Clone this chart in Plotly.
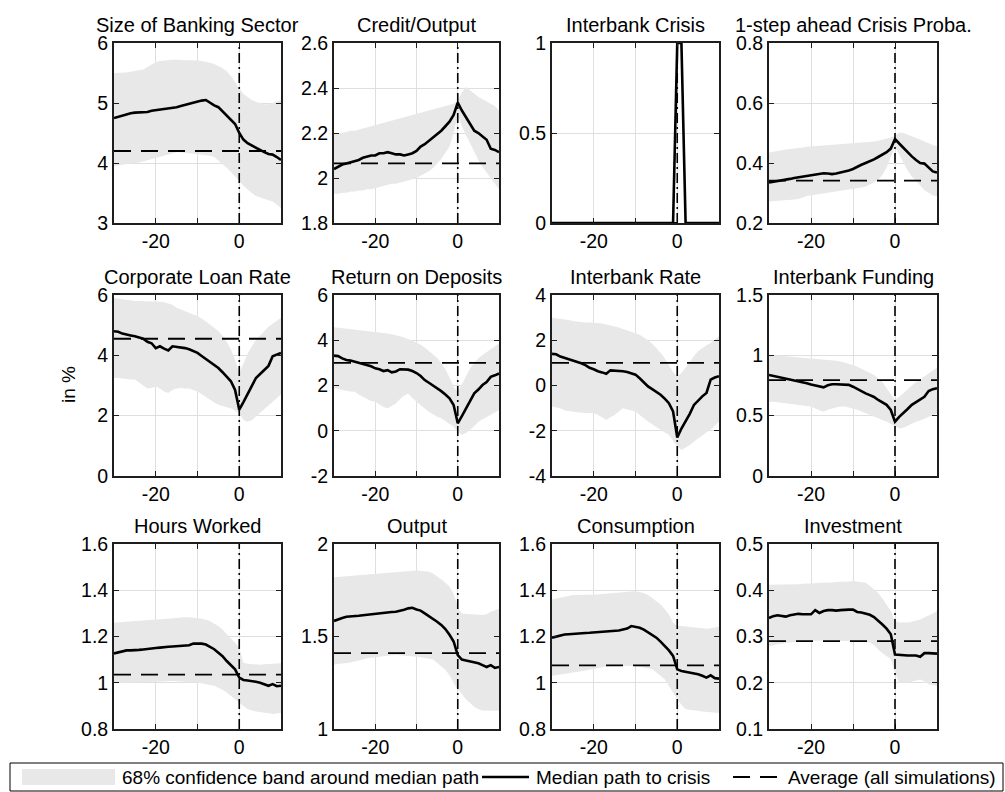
import plotly.graph_objects as go

W, H = 1005, 792
periods = list(range(-30, 11))
xtick_vals = [-30, -20, -10, 0, 10]
xtick_text = ["", "-20", "", "0", ""]

titles = ["Size of Banking Sector", "Credit/Output", "Interbank Crisis", "1-step ahead Crisis Proba.",
          "Corporate Loan Rate", "Return on Deposits", "Interbank Rate", "Interbank Funding",
          "Hours Worked", "Output", "Consumption", "Investment"]

y_ranges = [[3, 6], [1.8, 2.6], [0, 1], [0.2, 0.8],
            [0, 6], [-2, 6], [-4, 4], [0, 1.5],
            [0.8, 1.6], [1, 2], [0.8, 1.6], [0.1, 0.5]]
y_ticks = [[3, 4, 5, 6], [1.8, 2, 2.2, 2.4, 2.6], [0, 0.5, 1], [0.2, 0.4, 0.6, 0.8],
           [0, 2, 4, 6], [-2, 0, 2, 4, 6], [-4, -2, 0, 2, 4], [0, 0.5, 1, 1.5],
           [0.8, 1, 1.2, 1.4, 1.6], [1, 1.5, 2], [0.8, 1, 1.2, 1.4, 1.6], [0.1, 0.2, 0.3, 0.4, 0.5]]
y_ticktext = [["3", "4", "5", "6"], ["1.8", "2", "2.2", "2.4", "2.6"], ["0", "0.5", "1"], ["0.2", "0.4", "0.6", "0.8"],
              ["0", "2", "4", "6"], ["-2", "0", "2", "4", "6"], ["-4", "-2", "0", "2", "4"], ["0", "0.5", "1", "1.5"],
              ["0.8", "1", "1.2", "1.4", "1.6"], ["1", "1.5", "2"], ["0.8", "1", "1.2", "1.4", "1.6"], ["0.1", "0.2", "0.3", "0.4", "0.5"]]

# averages (all simulations)
averages = [4.2, 2.065, 0.0, 0.341, 4.55, 3.0, 1.0, 0.795, 1.035, 1.41, 1.075, 0.29]

# ---- Size of Banking Sector
size_med = [4.75, 4.77, 4.80, 4.82, 4.83, 4.84, 4.84, 4.85, 4.85, 4.87,
            4.88, 4.88, 4.89, 4.91, 4.92, 4.93, 4.95, 4.97, 4.98, 5.00,
            5.02, 5.04, 5.05, 5.00, 4.96, 4.93, 4.86, 4.79, 4.73, 4.65,
            4.50, 4.39, 4.33, 4.29, 4.25, 4.22, 4.18, 4.15, 4.14, 4.10, 4.05]
size_up = [5.50, 5.50, 5.51, 5.51, 5.52, 5.53, 5.54, 5.56, 5.60, 5.64,
           5.68, 5.70, 5.71, 5.71, 5.72, 5.72, 5.72, 5.72, 5.72, 5.72,
           5.71, 5.70, 5.69, 5.67, 5.65, 5.62, 5.58, 5.53, 5.45, 5.35,
           5.25, 5.15, 5.10, 5.05, 5.02, 5.00, 4.98, 4.98, 5.00, 5.02, 5.05]
size_lo = [3.95, 3.96, 3.97, 3.98, 3.99, 4.00, 4.01, 4.02, 4.04, 4.06,
           4.08, 4.10, 4.12, 4.14, 4.16, 4.18, 4.18, 4.17, 4.16, 4.15,
           4.15, 4.14, 4.13, 4.12, 4.10, 4.05, 3.98, 3.92, 3.85, 3.78,
           3.70, 3.62, 3.56, 3.50, 3.45, 3.42, 3.40, 3.38, 3.36, 3.30, 3.25]

# ---- Credit/Output
credit_med = [2.04, 2.05, 2.06, 2.065, 2.07, 2.075, 2.08, 2.09, 2.095, 2.10,
              2.10, 2.11, 2.11, 2.115, 2.11, 2.105, 2.105, 2.10, 2.105, 2.11,
              2.12, 2.14, 2.15, 2.165, 2.18, 2.195, 2.21, 2.23, 2.25, 2.28,
              2.335, 2.30, 2.27, 2.24, 2.21, 2.20, 2.185, 2.17, 2.13, 2.125, 2.115]
credit_up = [2.20, 2.20, 2.20, 2.205, 2.21, 2.21, 2.215, 2.22, 2.225, 2.23,
             2.235, 2.24, 2.245, 2.25, 2.255, 2.26, 2.265, 2.27, 2.275, 2.28,
             2.285, 2.29, 2.295, 2.30, 2.305, 2.31, 2.315, 2.32, 2.325, 2.33,
             2.345, 2.38, 2.405, 2.39, 2.375, 2.36, 2.35, 2.34, 2.33, 2.32, 2.30]
credit_lo = [1.93, 1.93, 1.935, 1.935, 1.94, 1.94, 1.945, 1.945, 1.95, 1.95,
             1.955, 1.96, 1.965, 1.97, 1.975, 1.975, 1.98, 1.985, 1.99, 1.995,
             2.00, 2.01, 2.02, 2.03, 2.045, 2.065, 2.085, 2.11, 2.14, 2.20,
             2.28, 2.23, 2.19, 2.155, 2.12, 2.08, 2.05, 2.02, 2.00, 1.975, 1.95]

# ---- Interbank Crisis
crisis_med = [0, 0, 0, 0, 0, 0, 0, 0, 0, 0,
              0, 0, 0, 0, 0, 0, 0, 0, 0, 0,
              0, 0, 0, 0, 0, 0, 0, 0, 0, 0,
              1, 1, 0, 0, 0, 0, 0, 0, 0, 0, 0]
crisis_up = crisis_med
crisis_lo = crisis_med

# ---- 1-step ahead Crisis Proba.
proba_med = [0.335, 0.337, 0.34, 0.342, 0.345, 0.347, 0.35, 0.352, 0.355, 0.358,
             0.36, 0.362, 0.364, 0.366, 0.365, 0.363, 0.365, 0.368, 0.372, 0.375,
             0.38, 0.388, 0.394, 0.40, 0.405, 0.412, 0.42, 0.428, 0.436, 0.448,
             0.48, 0.465, 0.45, 0.435, 0.422, 0.41, 0.40, 0.398, 0.385, 0.372, 0.368]
proba_up = [0.435, 0.438, 0.44, 0.442, 0.445, 0.447, 0.448, 0.45, 0.452, 0.454,
            0.455, 0.456, 0.457, 0.458, 0.46, 0.46, 0.461, 0.462, 0.463, 0.464,
            0.465, 0.466, 0.467, 0.468, 0.47, 0.472, 0.474, 0.477, 0.48, 0.485,
            0.49, 0.502, 0.50, 0.495, 0.49, 0.485, 0.478, 0.472, 0.465, 0.46, 0.456]
proba_lo = [0.272, 0.273, 0.274, 0.275, 0.276, 0.277, 0.278, 0.28, 0.285, 0.29,
            0.293, 0.296, 0.298, 0.30, 0.302, 0.304, 0.306, 0.308, 0.31, 0.312,
            0.314, 0.316, 0.318, 0.322, 0.328, 0.335, 0.345, 0.36, 0.385, 0.42,
            0.455, 0.425, 0.40, 0.375, 0.355, 0.34, 0.325, 0.31, 0.30, 0.292, 0.289]

# ---- Corporate Loan Rate
loan_med = [4.80, 4.78, 4.72, 4.68, 4.66, 4.63, 4.58, 4.55, 4.45, 4.40,
            4.24, 4.30, 4.22, 4.16, 4.30, 4.28, 4.28, 4.24, 4.20, 4.15,
            4.08, 3.98, 3.88, 3.78, 3.68, 3.58, 3.44, 3.30, 3.14, 2.85,
            2.20, 2.45, 2.72, 3.00, 3.25, 3.38, 3.50, 3.65, 3.97, 4.03, 4.08]
loan_up = [5.90, 5.88, 5.85, 5.83, 5.82, 5.80, 5.80, 5.80, 5.80, 5.80,
           5.80, 5.78, 5.76, 5.73, 5.68, 5.58, 5.52, 5.45, 5.40, 5.35,
           5.30, 5.22, 5.12, 5.02, 4.92, 4.80, 4.65, 4.45, 4.20, 3.85,
           3.40, 3.75, 4.05, 4.30, 4.50, 4.65, 4.80, 4.95, 5.05, 5.15, 5.25]
loan_lo = [3.25, 3.25, 3.24, 3.22, 3.20, 3.20, 3.10, 3.00, 2.90, 2.92,
           2.97, 2.90, 2.80, 2.75, 2.85, 2.90, 2.92, 2.90, 2.90, 2.85,
           2.80, 2.72, 2.62, 2.52, 2.44, 2.36, 2.32, 2.28, 2.25, 2.18,
           2.08, 1.86, 1.80, 1.85, 1.97, 2.10, 2.25, 2.35, 2.47, 2.58, 2.70]

# ---- Return on Deposits
dep_med = [3.32, 3.30, 3.20, 3.13, 3.10, 3.05, 3.02, 2.98, 2.92, 2.85,
           2.76, 2.72, 2.64, 2.68, 2.58, 2.62, 2.72, 2.70, 2.70, 2.64,
           2.55, 2.42, 2.24, 2.12, 2.00, 1.88, 1.75, 1.60, 1.43, 1.14,
           0.33, 0.65, 1.00, 1.35, 1.65, 1.82, 2.02, 2.15, 2.38, 2.45, 2.53]
dep_up = [4.57, 4.55, 4.52, 4.50, 4.48, 4.45, 4.44, 4.42, 4.40, 4.39,
          4.38, 4.36, 4.34, 4.30, 4.26, 4.23, 4.18, 4.12, 4.05, 3.98,
          3.90, 3.80, 3.68, 3.52, 3.38, 3.22, 3.00, 2.72, 2.35, 1.95,
          1.70, 2.05, 2.46, 2.75, 3.00, 3.20, 3.35, 3.48, 3.57, 3.72, 3.86]
dep_lo = [1.90, 1.85, 1.80, 1.76, 1.74, 1.72, 1.60, 1.50, 1.40, 1.32,
          1.28, 1.15, 1.05, 0.99, 1.10, 1.20, 1.40, 1.55, 1.65, 1.45,
          1.28, 1.12, 0.98, 0.84, 0.72, 0.62, 0.55, 0.42, 0.30, 0.18,
          -0.04, -0.19, -0.10, 0.03, 0.20, 0.40, 0.50, 0.60, 0.70, 0.82, 0.92]

# ---- Interbank Rate
ib_med = [1.40, 1.38, 1.28, 1.22, 1.18, 1.12, 1.04, 0.98, 0.90, 0.78,
          0.72, 0.63, 0.58, 0.52, 0.67, 0.66, 0.67, 0.63, 0.60, 0.55,
          0.48, 0.32, 0.15, -0.04, -0.16, -0.28, -0.41, -0.58, -0.78, -1.15,
          -2.30, -1.90, -1.59, -1.25, -0.86, -0.65, -0.48, -0.33, 0.26, 0.35, 0.41]
ib_up = [3.00, 2.98, 2.95, 2.92, 2.90, 2.85, 2.82, 2.80, 2.78, 2.78,
         2.77, 2.76, 2.74, 2.70, 2.66, 2.62, 2.56, 2.50, 2.44, 2.38,
         2.33, 2.24, 2.12, 2.00, 1.84, 1.66, 1.45, 1.20, 0.92, 0.60,
         0.40, 0.55, 0.78, 1.05, 1.30, 1.51, 1.65, 1.78, 1.88, 2.03, 2.18]
ib_lo = [-0.93, -0.95, -1.00, -1.10, -1.12, -1.15, -1.18, -1.20, -1.22, -1.22,
         -1.22, -1.30, -1.40, -1.52, -1.40, -1.30, -1.15, -1.00, -1.05, -1.10,
         -1.15, -1.28, -1.45, -1.59, -1.72, -1.85, -1.96, -2.08, -2.18, -2.45,
         -2.70, -2.85, -2.75, -2.63, -2.48, -2.33, -2.20, -2.08, -1.96, -1.78, -1.60]

# ---- Interbank Funding
fund_med = [0.837, 0.83, 0.818, 0.812, 0.805, 0.796, 0.79, 0.782, 0.775, 0.768,
            0.758, 0.749, 0.742, 0.735, 0.752, 0.76, 0.76, 0.758, 0.76, 0.755,
            0.74, 0.72, 0.70, 0.685, 0.67, 0.655, 0.63, 0.61, 0.59, 0.547,
            0.45, 0.49, 0.52, 0.555, 0.59, 0.61, 0.63, 0.657, 0.704, 0.72, 0.727]
fund_up = [1.0, 1.0, 0.998, 0.995, 0.993, 0.99, 0.988, 0.985, 0.98, 0.978,
           0.975, 0.972, 0.97, 0.967, 0.963, 0.96, 0.955, 0.948, 0.94, 0.93,
           0.92, 0.905, 0.89, 0.875, 0.855, 0.837, 0.81, 0.78, 0.727, 0.68,
           0.63, 0.655, 0.685, 0.72, 0.75, 0.78, 0.80, 0.825, 0.85, 0.875, 0.90]
fund_lo = [0.616, 0.615, 0.612, 0.608, 0.605, 0.602, 0.598, 0.592, 0.585, 0.58,
           0.575, 0.56, 0.545, 0.533, 0.55, 0.56, 0.57, 0.575, 0.575, 0.57,
           0.56, 0.55, 0.535, 0.52, 0.505, 0.49, 0.478, 0.465, 0.45, 0.43,
           0.41, 0.395, 0.40, 0.42, 0.435, 0.45, 0.46, 0.47, 0.49, 0.505, 0.52]

# ---- Hours Worked
hours_med = [1.127, 1.132, 1.136, 1.14, 1.14, 1.14, 1.142, 1.144, 1.145, 1.147,
             1.15, 1.152, 1.155, 1.156, 1.157, 1.159, 1.16, 1.16, 1.162, 1.17,
             1.17, 1.169, 1.165, 1.156, 1.145, 1.13, 1.115, 1.094, 1.078, 1.058,
             1.022, 1.012, 1.01, 1.008, 1.004, 1.0, 0.995, 0.987, 0.994, 0.985, 0.987]
hours_up = [1.26, 1.262, 1.264, 1.265, 1.266, 1.267, 1.268, 1.27, 1.271, 1.272,
            1.274, 1.275, 1.276, 1.278, 1.28, 1.281, 1.282, 1.283, 1.283, 1.282,
            1.28, 1.277, 1.272, 1.267, 1.255, 1.245, 1.23, 1.212, 1.195, 1.173,
            1.152, 1.087, 1.082, 1.08, 1.078, 1.078, 1.08, 1.08, 1.082, 1.083, 1.084]
hours_lo = [1.0, 1.0, 1.0, 1.0, 1.0, 1.0, 1.001, 1.002, 1.003, 1.003,
            1.004, 1.005, 1.006, 1.007, 1.008, 1.008, 1.006, 1.004, 1.002, 1.0,
            1.0, 0.998, 0.995, 0.99, 0.987, 0.98, 0.97, 0.958, 0.944, 0.929,
            0.915, 0.9, 0.886, 0.88, 0.876, 0.872, 0.87, 0.868, 0.865, 0.867, 0.869]

# ---- Output
output_med = [1.584, 1.59, 1.60, 1.607, 1.608, 1.61, 1.612, 1.615, 1.618, 1.62,
              1.622, 1.625, 1.628, 1.63, 1.632, 1.634, 1.638, 1.645, 1.652, 1.655,
              1.646, 1.64, 1.625, 1.61, 1.598, 1.58, 1.5625, 1.54, 1.509, 1.473,
              1.40, 1.375, 1.37, 1.365, 1.36, 1.355, 1.345, 1.335, 1.345, 1.33, 1.335]
output_up = [1.82, 1.822, 1.824, 1.826, 1.828, 1.83, 1.832, 1.834, 1.836, 1.838,
             1.84, 1.842, 1.844, 1.846, 1.848, 1.85, 1.852, 1.854, 1.856, 1.857,
             1.857, 1.856, 1.853, 1.85, 1.84, 1.825, 1.81, 1.79, 1.77, 1.73,
             1.66, 1.625, 1.622, 1.62, 1.618, 1.617, 1.616, 1.62, 1.634, 1.642, 1.65]
output_lo = [1.348, 1.35, 1.353, 1.357, 1.36, 1.366, 1.37, 1.376, 1.382, 1.386,
             1.39, 1.392, 1.394, 1.396, 1.398, 1.40, 1.40, 1.398, 1.395, 1.392,
             1.39, 1.388, 1.385, 1.38, 1.375, 1.36, 1.34, 1.32, 1.29, 1.25,
             1.214, 1.19, 1.16, 1.14, 1.12, 1.107, 1.10, 1.098, 1.098, 1.098, 1.098]

# ---- Consumption
cons_med = [1.195, 1.2, 1.205, 1.209, 1.21, 1.212, 1.213, 1.214, 1.215, 1.216,
            1.217, 1.218, 1.219, 1.22, 1.222, 1.224, 1.226, 1.23, 1.234, 1.245,
            1.242, 1.238, 1.23, 1.219, 1.208, 1.195, 1.178, 1.159, 1.14, 1.116,
            1.058, 1.051, 1.048, 1.044, 1.04, 1.037, 1.03, 1.022, 1.032, 1.02, 1.018]
cons_up = [1.36, 1.365, 1.37, 1.372, 1.375, 1.38, 1.38, 1.38, 1.38, 1.38,
           1.38, 1.382, 1.384, 1.386, 1.388, 1.389, 1.39, 1.392, 1.394, 1.395,
           1.396, 1.393, 1.388, 1.38, 1.365, 1.352, 1.339, 1.318, 1.295, 1.26,
           1.245, 1.245, 1.243, 1.24, 1.238, 1.236, 1.235, 1.234, 1.236, 1.24, 1.242]
cons_lo = [1.03, 1.032, 1.035, 1.038, 1.04, 1.044, 1.047, 1.05, 1.053, 1.055,
           1.058, 1.062, 1.066, 1.07, 1.074, 1.076, 1.075, 1.074, 1.073, 1.072,
           1.072, 1.07, 1.066, 1.062, 1.058, 1.045, 1.03, 1.015, 0.99, 0.958,
           0.929, 0.905, 0.886, 0.882, 0.88, 0.879, 0.876, 0.874, 0.872, 0.87, 0.869]

# ---- Investment
inv_med = [0.340, 0.344, 0.346, 0.345, 0.343, 0.346, 0.348, 0.349, 0.348, 0.348,
           0.348, 0.357, 0.351, 0.355, 0.357, 0.357, 0.356, 0.357, 0.358, 0.358,
           0.358, 0.353, 0.352, 0.35, 0.347, 0.342, 0.335, 0.326, 0.317, 0.305,
           0.261, 0.26, 0.26, 0.259, 0.259, 0.259, 0.256, 0.264, 0.264, 0.264, 0.263]
inv_up = [0.412, 0.412, 0.412, 0.412, 0.412, 0.412, 0.413, 0.413, 0.414, 0.414,
          0.415, 0.415, 0.416, 0.416, 0.417, 0.417, 0.418, 0.418, 0.419, 0.419,
          0.42, 0.419, 0.418, 0.416, 0.41, 0.403, 0.394, 0.382, 0.369, 0.355,
          0.333, 0.33, 0.33, 0.33, 0.332, 0.334, 0.337, 0.341, 0.345, 0.35, 0.355]
inv_lo = [0.279, 0.281, 0.283, 0.285, 0.286, 0.287, 0.288, 0.289, 0.29, 0.29,
          0.29, 0.291, 0.291, 0.292, 0.292, 0.292, 0.291, 0.291, 0.29, 0.29,
          0.29, 0.289, 0.288, 0.287, 0.287, 0.282, 0.272, 0.264, 0.258, 0.251,
          0.222, 0.2, 0.2, 0.2, 0.202, 0.205, 0.207, 0.203, 0.197, 0.195, 0.193]

medians = [size_med, credit_med, crisis_med, proba_med, loan_med, dep_med, ib_med, fund_med,
           hours_med, output_med, cons_med, inv_med]
uppers = [size_up, credit_up, crisis_up, proba_up, loan_up, dep_up, ib_up, fund_up,
          hours_up, output_up, cons_up, inv_up]
lowers = [size_lo, credit_lo, crisis_lo, proba_lo, loan_lo, dep_lo, ib_lo, fund_lo,
          hours_lo, output_lo, cons_lo, inv_lo]

legend_labels = ["68% confidence band around median path", "Median path to crisis", "Average (all simulations)"]

# ---------------- layout geometry (pixels)
cols_px = [(114, 281), (334, 499), (552, 719), (769, 937)]
rows_px = [(43, 223), (295, 476), (544, 729)]

FONT = "Liberation Sans, Arial, Helvetica, sans-serif"
BAND = "rgb(232,232,232)"
AVG_DASH = "17px,10px"

fig = go.Figure()
layout_axes = {}
annotations = []
shapes = []

for k in range(12):
    r, c = divmod(k, 4)
    sfx = "" if k == 0 else str(k + 1)
    xa, ya = "x" + sfx, "y" + sfx
    x0p, x1p = cols_px[c]
    y0p, y1p = rows_px[r]

    fig.add_trace(go.Scatter(x=periods + periods[::-1], y=uppers[k] + lowers[k][::-1],
                             fill="toself", fillcolor=BAND, line=dict(width=0, color=BAND),
                             mode="lines", xaxis=xa, yaxis=ya, showlegend=False, hoverinfo="skip"))
    fig.add_trace(go.Scatter(x=periods, y=[averages[k]] * len(periods), mode="lines",
                             line=dict(color="black", width=1.8, dash=AVG_DASH),
                             xaxis=xa, yaxis=ya, showlegend=False))
    fig.add_trace(go.Scatter(x=periods, y=medians[k], mode="lines",
                             line=dict(color="black", width=2.6),
                             xaxis=xa, yaxis=ya, showlegend=False))

    axis_common = dict(showline=True, linecolor="rgb(30,30,30)", linewidth=1.8, mirror="allticks",
                       ticks="inside", ticklen=5, tickcolor="rgb(30,30,30)", tickwidth=1,
                       showgrid=True, gridcolor="rgb(223,223,223)", gridwidth=1,
                       zeroline=False, automargin=False,
                       tickfont=dict(family=FONT, size=19.5, color="black"))
    layout_axes["xaxis" + sfx] = dict(axis_common, domain=[x0p / W, x1p / W], range=[-30, 10],
                                     tickmode="array", tickvals=xtick_vals, ticktext=xtick_text,
                                     anchor=ya)
    layout_axes["yaxis" + sfx] = dict(axis_common, domain=[1 - y1p / H, 1 - y0p / H], range=y_ranges[k],
                                     tickmode="array", tickvals=y_ticks[k], ticktext=y_ticktext[k],
                                     anchor=xa)

    shapes.append(dict(type="line", xref=xa, yref=ya + " domain", x0=0, x1=0, y0=0, y1=1,
                       line=dict(color="black", width=1.6, dash="10px,4px,2px,4px"), layer="above"))

    annotations.append(dict(text=titles[k], xref="paper", yref="paper",
                            x=(x0p + x1p) / 2 / W, y=1 - y0p / H, xanchor="center", yanchor="bottom",
                            yshift=5, showarrow=False, font=dict(family=FONT, size=20, color="black")))

annotations.append(dict(text="in %", xref="paper", yref="paper", x=68 / W, y=1 - 385 / H,
                        textangle=-90, showarrow=False, xanchor="center", yanchor="middle",
                        font=dict(family=FONT, size=19, color="black")))

# ---------------- legend box
ly = 777
shapes.append(dict(type="rect", xref="paper", yref="paper", x0=10 / W, x1=1003 / W,
                   y0=1 - 791 / H, y1=1 - 763 / H, line=dict(color="black", width=1),
                   fillcolor="white", layer="above"))
shapes.append(dict(type="rect", xref="paper", yref="paper", x0=22 / W, x1=115 / W,
                   y0=1 - 785 / H, y1=1 - 769 / H, line=dict(width=0), fillcolor=BAND, layer="above"))
shapes.append(dict(type="line", xref="paper", yref="paper", x0=482 / W, x1=529 / W,
                   y0=1 - ly / H, y1=1 - ly / H, line=dict(color="black", width=2.6), layer="above"))
shapes.append(dict(type="line", xref="paper", yref="paper", x0=733 / W, x1=780 / W,
                   y0=1 - ly / H, y1=1 - ly / H, line=dict(color="black", width=1.8, dash=AVG_DASH),
                   layer="above"))
for txt, xp in zip(legend_labels, [120, 534, 786]):
    annotations.append(dict(text=txt, xref="paper", yref="paper", x=xp / W, y=1 - ly / H,
                            xanchor="left", yanchor="middle", showarrow=False,
                            font=dict(family=FONT, size=19, color="black")))

fig.update_layout(width=W, height=H, margin=dict(l=0, r=0, t=0, b=0),
                  paper_bgcolor="white", plot_bgcolor="white", showlegend=False,
                  annotations=annotations, shapes=shapes, **layout_axes)

fig.write_html("out.html")
